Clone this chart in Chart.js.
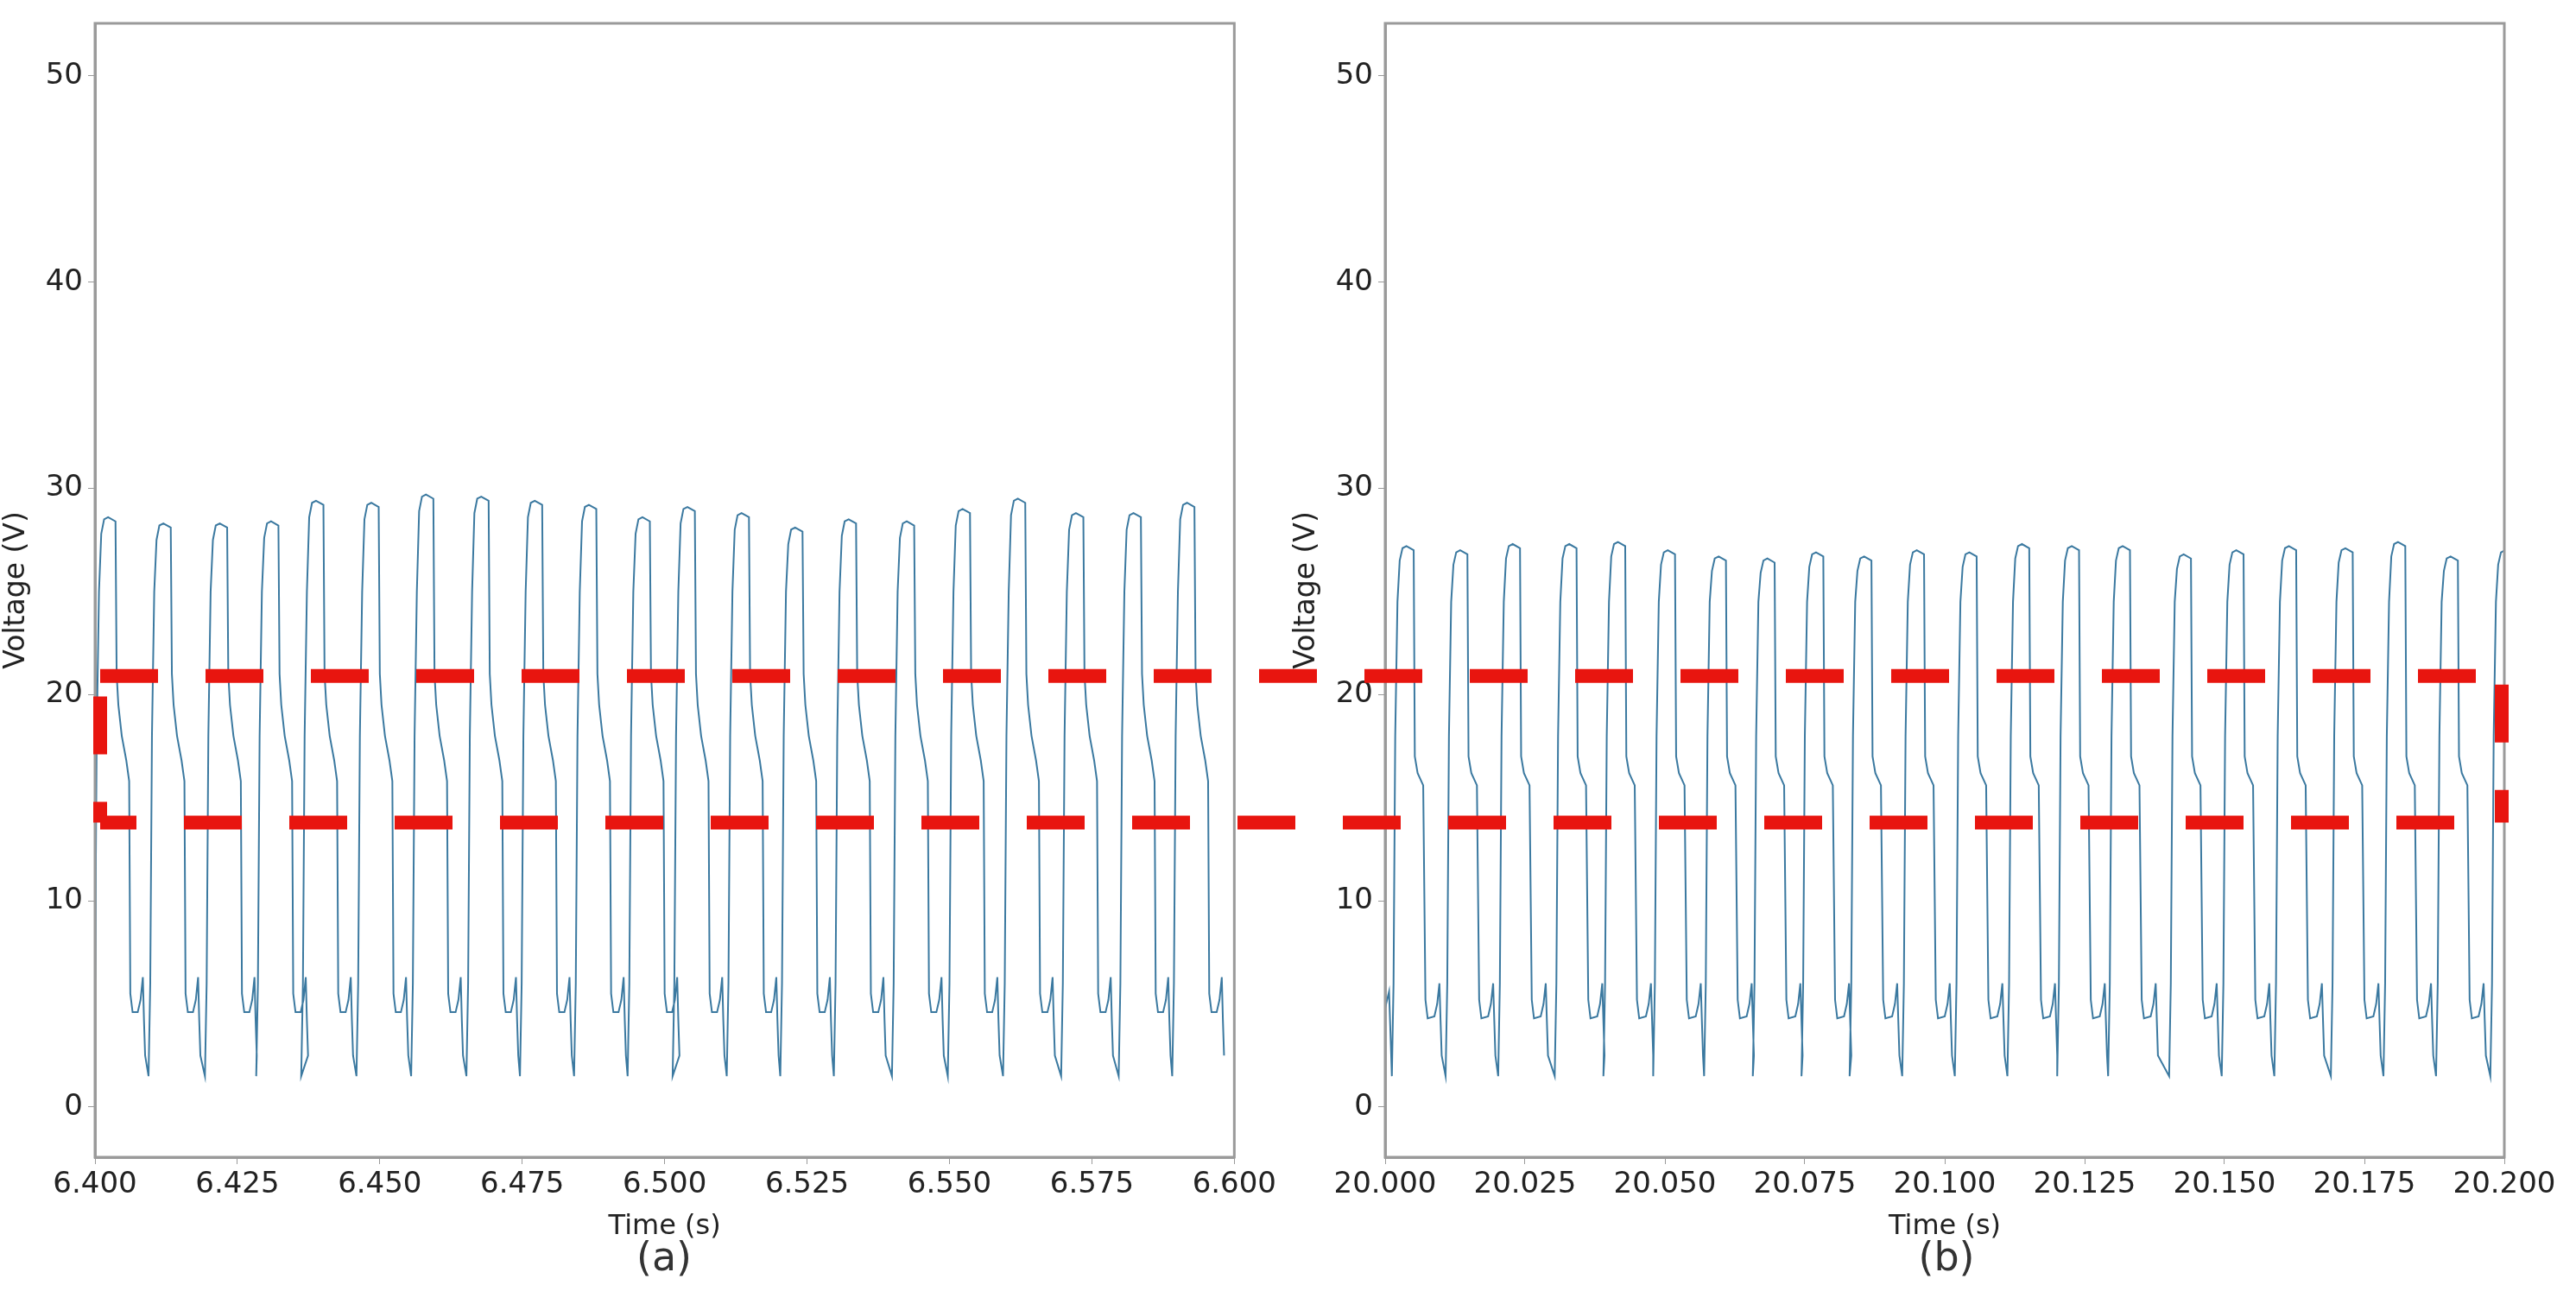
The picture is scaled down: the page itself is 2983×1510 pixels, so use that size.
<!DOCTYPE html>
<html><head><meta charset="utf-8">
<script src="https://cdn.jsdelivr.net/npm/chart.js@4"></script>
<style>
html,body{margin:0;padding:0;background:#fff;width:2983px;height:1510px;overflow:hidden;position:relative}
canvas{position:absolute}
.lab{position:absolute;font-family:"DejaVu Sans",sans-serif;font-size:46px;color:#333;transform:translateX(-50%)}
</style></head>
<body>
<canvas id="ca" width="1482" height="1510" style="left:0;top:0"></canvas>
<canvas id="cb" width="1489" height="1510" style="left:1494px;top:0"></canvas>
<canvas id="ov" width="2821" height="1353" style="left:96px;top:7px"></canvas>
<div class="lab" style="left:769px;top:1428px">(a)</div>
<div class="lab" style="left:2254px;top:1428px">(b)</div>
<script>
// ---- data (times in ms from panel start, volts) ----
const xTicksA = [6.400,6.425,6.450,6.475,6.500,6.525,6.550,6.575,6.600];
const xTicksB = [20.000,20.025,20.050,20.075,20.100,20.125,20.150,20.175,20.200];
const yTicks = [0,10,20,30,40,50];
// cycle start (the sharp dip) times, ms
const cycleStartA = [-0.3,9.4,19.3,28.3,36.2,45.9,55.5,65.2,74.6,84.1,93.5,101.4,110.9,120.3,129.7,139.9,149.7,159.4,169.6,179.7,189.1];
const peakA = [28.6,28.3,28.3,28.4,29.4,29.3,29.7,29.6,29.4,29.2,28.6,29.1,28.8,28.1,28.5,28.4,29.0,29.5,28.8,28.8,29.3];
const cycleStartB = [1.2,10.8,20.2,30.3,39.0,47.9,57.0,65.7,74.4,83.0,92.4,101.8,111.2,120.1,129.2,140.1,149.5,158.9,169.0,178.4,187.8,197.5];
const peakB = [27.2,27.0,27.3,27.3,27.4,27.0,26.7,26.6,26.9,26.7,27.0,26.9,27.3,27.2,27.2,26.8,27.0,27.2,27.1,27.4,26.7,27.0];
const leadB = [[0,4.8],[0.7,5.6],[0.9,4.0]];
// typical cycle profile: [offset ms, volts]; values <= 0 are offsets from that cycle's peak
const shapeA = [[0,1.5],[0.3,6],[0.6,18],[1.0,25],[1.4,-0.8],[1.9,-0.1],[2.6,0],[3.9,-0.2],[4.1,21],[4.4,19.5],[5.0,18],[5.8,16.8],[6.3,15.8],[6.5,5.5],[6.9,4.6],[7.8,4.6],[8.3,5.2],[8.7,6.3],[8.9,4.2],[9.1,2.5]];
const shapeB = [[0,1.5],[0.3,6],[0.6,18],[1.0,24.5],[1.4,-0.7],[1.9,-0.1],[2.6,0],[3.9,-0.2],[4.1,17],[4.6,16.2],[5.6,15.6],[6.0,5.2],[6.4,4.3],[7.6,4.4],[8.1,5.0],[8.5,6.0],[8.7,4.2],[8.9,2.5]];
const boxTop = 20.9, boxBottom = 13.8;

function build(t0, starts, peaks, shape, lead){
  const pts = (lead||[]).map(p=>({x:t0+p[0]/1000,y:p[1]}));
  starts.forEach((s,i)=>{
    shape.forEach(p=>{
      const v = p[1] <= 0 ? peaks[i] + p[1] : p[1];
      pts.push({x:t0+(s+p[0])/1000, y:v});
    });
  });
  return pts;
}
const dataA = build(6.4, cycleStartA, peakA, shapeA);
const dataB = build(20.0, cycleStartB, peakB, shapeB, leadB);

const FONT = "DejaVu Sans";
const frame = {id:'frame', afterDraw(c){const a=c.chartArea,g=c.ctx;g.save();g.strokeStyle='#9a9a9a';g.lineWidth=3;g.strokeRect(a.left,a.top,a.right-a.left,a.bottom-a.top);g.restore();}};

function panel(id, data, ticks, padRight){
  new Chart(document.getElementById(id), {
    type:'scatter',
    data:{datasets:[{data, showLine:true, borderColor:'#3b79a0', borderWidth:2, pointRadius:0, tension:0}]},
    options:{
      responsive:false, animation:false, devicePixelRatio:1,
      layout:{padding:{top:27,right:padRight,bottom:70,left:0}},
      plugins:{legend:{display:false},tooltip:{enabled:false}},
      scales:{
        x:{type:'linear', min:ticks[0], max:ticks[ticks.length-1],
          afterBuildTicks(s){s.ticks = ticks.map(v=>({value:v}));},
          afterFit(s){s.height=100;},
          ticks:{callback:v=>v.toFixed(3), font:{family:FONT,size:34}, color:'#222', maxRotation:0, autoSkip:false, padding:4},
          grid:{display:true, drawOnChartArea:false, tickLength:8, color:'#9a9a9a'},
          border:{color:'#9a9a9a', width:3},
          title:{display:true, text:'Time (s)', font:{family:FONT,size:32}, color:'#222', padding:{top:0,bottom:0}}},
        y:{type:'linear', min:-2.43, max:52.55,
          afterBuildTicks(s){s.ticks = yTicks.map(v=>({value:v}));},
          afterFit(s){s.width=110;},
          ticks:{font:{family:FONT,size:34}, color:'#222', padding:6},
          grid:{display:true, drawOnChartArea:false, tickLength:8, color:'#9a9a9a'},
          border:{color:'#9a9a9a', width:3},
          title:{display:true, text:'Voltage (V)', font:{family:FONT,size:33}, color:'#222', padding:{top:0,bottom:0}}}
      }
    },
    plugins:[frame]
  });
}
panel('ca', dataA, xTicksA, 9);
panel('cb', dataB, xTicksB, 83);

// overlay: the red dashed highlight box spanning both panels, one side per dataset
const side = (pts, off) => ({data:pts, showLine:true, borderColor:'#e8150f', borderWidth:16, borderDash:[67,55],
  borderDashOffset:off, pointRadius:0, tension:0, clip:false, borderCapStyle:'butt'});
new Chart(document.getElementById('ov'), {
  type:'scatter',
  data:{datasets:[
    side([{x:0,y:boxTop},{x:1,y:boxTop}], 0),
    side([{x:1,y:boxTop},{x:1,y:boxBottom}], 112),
    side([{x:0,y:boxBottom},{x:1,y:boxBottom}], 25),
    side([{x:0,y:boxBottom},{x:0,y:boxTop}], 43)
  ]},
  options:{responsive:false, animation:false, devicePixelRatio:1,
    layout:{padding:20},
    plugins:{legend:{display:false},tooltip:{enabled:false}},
    scales:{x:{type:'linear',min:0,max:1,display:false},y:{type:'linear',min:-2.43,max:52.55,display:false}}}
});
</script>
</body></html>
